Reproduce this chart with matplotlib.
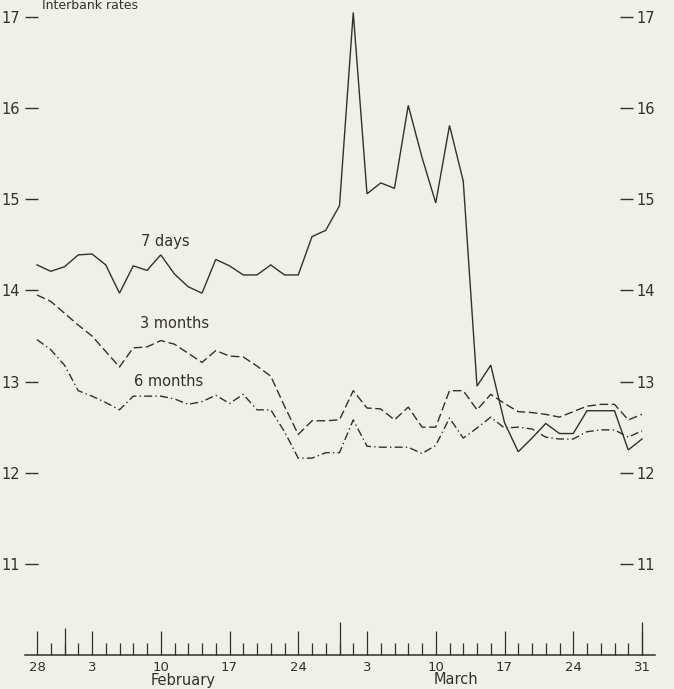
import matplotlib
matplotlib.use("Agg")
import matplotlib.pyplot as plt
import numpy as np

plt.rcParams['font.family'] = ['DejaVu Sans']
plt.rcParams['lines.scale_dashes'] = False

# business-day index along the x axis (28 Jan ... 31 Mar)
days = list(range(45))

seven_days = [14.28, 14.21, 14.26, 14.39, 14.40, 14.28, 13.97, 14.27, 14.22, 14.39,
              14.18, 14.04, 13.97, 14.34, 14.27, 14.17, 14.17, 14.28, 14.17, 14.17,
              14.59, 14.66, 14.93, 17.05, 15.06, 15.18, 15.12, 16.03, 15.46, 14.96,
              15.81, 15.20, 12.95, 13.18, 12.55, 12.23, 12.38, 12.54, 12.43, 12.43,
              12.68, 12.68, 12.68, 12.25, 12.37]

three_months = [13.95, 13.88, 13.75, 13.62, 13.50, 13.33, 13.16, 13.37, 13.38, 13.45,
                13.41, 13.31, 13.21, 13.34, 13.28, 13.27, 13.17, 13.06, 12.73, 12.42,
                12.57, 12.57, 12.58, 12.90, 12.71, 12.70, 12.58, 12.72, 12.50, 12.50,
                12.90, 12.90, 12.69, 12.86, 12.76, 12.67, 12.66, 12.64, 12.61, 12.67,
                12.73, 12.75, 12.75, 12.58, 12.64]

six_months = [13.46, 13.35, 13.18, 12.90, 12.84, 12.77, 12.69, 12.84, 12.84, 12.84,
              12.81, 12.75, 12.78, 12.85, 12.76, 12.86, 12.69, 12.69, 12.45, 12.16,
              12.16, 12.22, 12.22, 12.58, 12.29, 12.28, 12.28, 12.28, 12.21, 12.30,
              12.60, 12.38, 12.49, 12.61, 12.49, 12.50, 12.48, 12.39, 12.37, 12.37,
              12.45, 12.47, 12.47, 12.39, 12.46]

label_pos = [0, 4, 9, 14, 19, 24, 29, 34, 39, 44]
label_txt = ['28', '3', '10', '17', '24', '3', '10', '17', '24', '31']
month_start_pos = [2]
month_end_pos = [22, 44]
y_ticks = [11, 12, 13, 14, 15, 16, 17]

ink = '#34302b'
bg = '#f0f0eb'

W, H = 674, 689
fig = plt.figure(figsize=(W / 100, H / 100), dpi=100, facecolor=bg)
ax_left, ax_right, ax_bottom = 25, 655, 655
ax = fig.add_axes([ax_left / W, (H - ax_bottom) / H, (ax_right - ax_left) / W, ax_bottom / H])
ax.set_facecolor(bg)

# data -> pixel calibration: index 0 at x=37, index 44 at x=642
x0, dx = 37, (642 - 37) / 44
ax.set_xlim((ax_left - x0) / dx, (ax_right - x0) / dx)
ax.set_ylim(10.0, 17 + 17 / 91.1)

lw = 1.0
ax.plot(days, seven_days, color=ink, lw=lw, solid_joinstyle='miter')
ax.plot(days, three_months, color=ink, lw=lw, dashes=(6.2, 2.6))
ax.plot(days, six_months, color=ink, lw=lw, dashes=(5.8, 2.3, 1.0, 2.3))

tfs = 10.5
ax.text(9.3, 14.54, '7 days', ha='center', va='center', fontsize=tfs, color=ink)
ax.text(10.04, 13.64, '3 months', ha='center', va='center', fontsize=tfs, color=ink)
ax.text(9.55, 13.00, '6 months', ha='center', va='center', fontsize=tfs, color=ink)

# spines
for s in ['top', 'right', 'left']:
    ax.spines[s].set_visible(False)
ax.spines['bottom'].set_color(ink)
ax.spines['bottom'].set_linewidth(1.1)

# x ticks
ax.set_xticks(label_pos)
ax.set_xticklabels(label_txt)
ax.set_xticks([d for d in days if d not in label_pos], minor=True)
ax.tick_params(axis='x', which='major', direction='in', length=17.3, width=0.9,
               color=ink, labelcolor=ink, labelsize=9.5, pad=4)
ax.tick_params(axis='x', which='minor', direction='in', length=9.0, width=0.9, color=ink)

secx = ax.secondary_xaxis(0)
secx.set_xticks(month_end_pos)
secx.set_xticks(month_start_pos, minor=True)
secx.tick_params(axis='x', which='major', direction='in', length=24.0, width=0.9,
                 color=ink, labelbottom=False)
secx.tick_params(axis='x', which='minor', direction='in', length=19.5, width=0.9, color=ink)
secx.spines['bottom'].set_visible(False)

ax.text(10.6, -25 / ax_bottom, 'February', transform=ax.get_xaxis_transform(),
        ha='center', va='center', fontsize=tfs, color=ink)
ax.text(30.5, -25 / ax_bottom, 'March', transform=ax.get_xaxis_transform(),
        ha='center', va='center', fontsize=tfs, color=ink)

# y ticks left
ax.set_yticks(y_ticks)
ax.set_yticklabels([str(v) for v in y_ticks])
ax.tick_params(axis='y', which='both', direction='in', length=9.0, width=1.0,
               color=ink, labelcolor=ink, labelsize=10.5, pad=3.5)

# y ticks right
secy = ax.secondary_yaxis((620 - ax_left) / (ax_right - ax_left))
secy.set_yticks(y_ticks)
secy.set_yticklabels([str(v) for v in y_ticks])
secy.tick_params(axis='y', direction='out', length=9.0, width=1.0,
                 color=ink, labelcolor=ink, labelsize=10.5, pad=2.5)
secy.spines['right'].set_visible(False)

fig.text(42 / W, 1 - 9 / H, 'Interbank rates', ha='left', va='baseline',
         fontsize=9, color=ink)

fig.savefig('out.png', dpi=100, facecolor=bg)
